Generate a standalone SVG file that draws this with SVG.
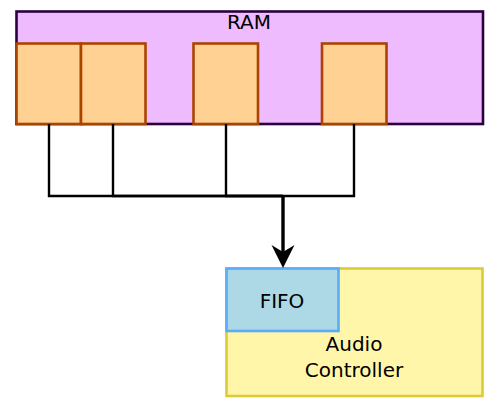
<svg xmlns="http://www.w3.org/2000/svg" width="502" height="408" viewBox="0 0 502 408">
<style>
text{font-family:"DejaVu Sans",sans-serif;font-size:20px;fill:#000;text-anchor:middle}
.ram{fill:#eebbff;stroke:#2b0040;stroke-width:2.6}
.cell{fill:#ffd192;stroke:#aa4400;stroke-width:2.6}
.ac{fill:#fff6aa;stroke:#dccb36;stroke-width:2.6}
.fifo{fill:#add8e6;stroke:#5aacf8;stroke-width:2.6}
.wire{fill:none;stroke:#000;stroke-width:2.4}
.main{fill:none;stroke:#000;stroke-width:3.4}
</style>
<defs>
<marker id="arr" markerUnits="userSpaceOnUse" viewBox="0 0 24 24" markerWidth="24" markerHeight="24" refX="17" refY="12" orient="auto">
<path d="M23,12 L0,0.5 L7,12 L0,23.5 Z" fill="#000"/>
</marker>
</defs>
<g id="ram">
<rect class="ram" x="16.5" y="11.5" width="466.5" height="112.5"/>
<text x="249" y="29">RAM</text>
</g>
<g id="cell1"><rect class="cell" x="16.5" y="43.5" width="64.5" height="80.5"/></g>
<g id="cell2"><rect class="cell" x="81" y="43.5" width="64.5" height="80.5"/></g>
<g id="cell3"><rect class="cell" x="193.5" y="43.5" width="64.5" height="80.5"/></g>
<g id="cell4"><rect class="cell" x="322" y="43.5" width="64.5" height="80.5"/></g>
<g id="audio">
<rect class="ac" x="226.5" y="268.5" width="256" height="127.5"/>
<text x="354" y="351">Audio</text>
<text x="354" y="377">Controller</text>
</g>
<g id="fifo">
<rect class="fifo" x="226.5" y="268.5" width="112" height="62.5"/>
<text x="282" y="308">FIFO</text>
</g>
<g id="connectors">
<path class="wire" d="M49,124 V196 H283"/>
<path class="wire" d="M113,124 V196 H283"/>
<path class="wire" d="M226,124 V196 H283"/>
<path class="wire" d="M354,124 V196 H283"/>
<path class="main" d="M283,196 V262" marker-end="url(#arr)"/>
</g>
</svg>
